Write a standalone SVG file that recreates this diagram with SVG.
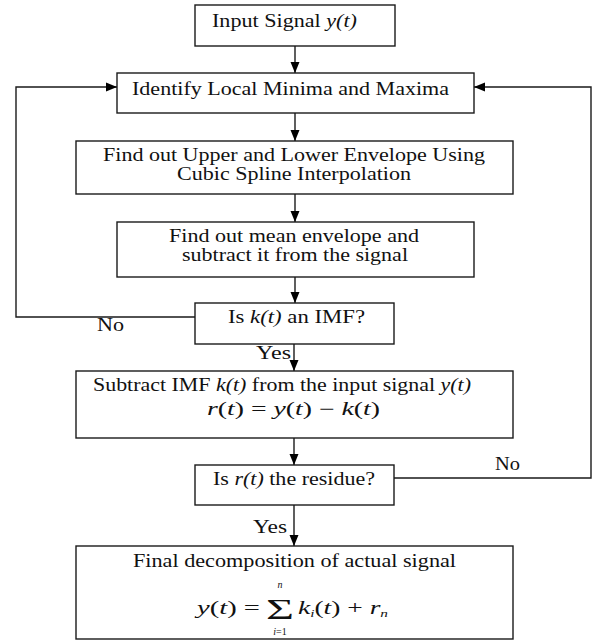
<svg xmlns="http://www.w3.org/2000/svg" width="595" height="643" viewBox="0 0 595 643">
<defs>
<marker id="arr" markerUnits="userSpaceOnUse" markerWidth="12" markerHeight="12" viewBox="0 0 12 12" refX="11" refY="6" orient="auto">
<path d="M0,1.5 L11,6 L0,10.5 Z" fill="#000"/>
</marker>
<style>
.box{fill:#fff;stroke:#1a1a1a;stroke-width:1.4}
.conn{fill:none;stroke:#1a1a1a;stroke-width:1.4}
text{font-family:'Liberation Serif','Times New Roman','DejaVu Serif',serif;font-size:18px;fill:#111}
.i{font-style:italic}
.s{font-size:10px}
</style>
</defs>
<g font-family="'Liberation Serif', 'Times New Roman', 'DejaVu Serif', serif">
<g id="connectors">
<line class="conn" x1="295" y1="46" x2="295" y2="73" marker-end="url(#arr)"/>
<line class="conn" x1="295" y1="113" x2="295" y2="141" marker-end="url(#arr)"/>
<line class="conn" x1="295" y1="194" x2="295" y2="222" marker-end="url(#arr)"/>
<line class="conn" x1="295" y1="277" x2="295" y2="303" marker-end="url(#arr)"/>
<line class="conn" x1="294" y1="344" x2="294" y2="371" marker-end="url(#arr)"/>
<line class="conn" x1="294" y1="438" x2="294" y2="465" marker-end="url(#arr)"/>
<line class="conn" x1="294" y1="505" x2="294" y2="546" marker-end="url(#arr)"/>
<polyline class="conn" points="195,317 16,317 16,87 117,87" marker-end="url(#arr)"/>
<polyline class="conn" points="394,478 591,478 591,87 474,87" marker-end="url(#arr)"/>
<text x="97" y="331" textLength="27" lengthAdjust="spacingAndGlyphs">No</text>
<text x="495" y="470" textLength="25" lengthAdjust="spacingAndGlyphs">No</text>
<text x="256" y="359" textLength="35" lengthAdjust="spacingAndGlyphs">Yes</text>
<text x="253" y="533" textLength="34" lengthAdjust="spacingAndGlyphs">Yes</text>
</g>
<g id="input">
<rect class="box" x="195" y="5" width="200" height="41"/>
<text x="212" y="27" textLength="145" lengthAdjust="spacingAndGlyphs">Input Signal <tspan class="i">y(t)</tspan></text>
</g>
<g id="extrema">
<rect class="box" x="117" y="73" width="357" height="40"/>
<text x="132" y="95" textLength="317" lengthAdjust="spacingAndGlyphs">Identify Local Minima and Maxima</text>
</g>
<g id="envelope">
<rect class="box" x="76" y="141" width="437" height="53"/>
<text x="103" y="161" textLength="382" lengthAdjust="spacingAndGlyphs">Find out Upper and Lower Envelope Using</text>
<text x="177" y="180" textLength="234" lengthAdjust="spacingAndGlyphs">Cubic Spline Interpolation</text>
</g>
<g id="mean">
<rect class="box" x="117" y="222" width="357" height="55"/>
<text x="169" y="242" textLength="250" lengthAdjust="spacingAndGlyphs">Find out mean envelope and</text>
<text x="182" y="261" textLength="226" lengthAdjust="spacingAndGlyphs">subtract it from the signal</text>
</g>
<g id="isimf">
<rect class="box" x="195" y="303" width="199" height="41"/>
<text x="228" y="323" textLength="137" lengthAdjust="spacingAndGlyphs">Is <tspan class="i">k(t)</tspan> an IMF?</text>
</g>
<g id="subtract">
<rect class="box" x="76" y="371" width="437" height="67"/>
<text x="93" y="391" textLength="378" lengthAdjust="spacingAndGlyphs">Subtract IMF <tspan class="i">k(t)</tspan> from the input signal <tspan class="i">y(t)</tspan></text>
<text x="207" y="415" textLength="173" lengthAdjust="spacingAndGlyphs"><tspan class="i">r</tspan>(<tspan class="i">t</tspan>) = <tspan class="i">y</tspan>(<tspan class="i">t</tspan>) − <tspan class="i">k</tspan>(<tspan class="i">t</tspan>)</text>
</g>
<g id="residue">
<rect class="box" x="195" y="465" width="199" height="40"/>
<text x="213" y="485" textLength="162" lengthAdjust="spacingAndGlyphs">Is <tspan class="i">r(t)</tspan> the residue?</text>
</g>
<g id="final">
<rect class="box" x="76" y="546" width="437" height="93"/>
<text x="133" y="567" textLength="323" lengthAdjust="spacingAndGlyphs">Final decomposition of actual signal</text>
<text x="197" y="614" textLength="63" lengthAdjust="spacingAndGlyphs"><tspan class="i">y</tspan>(<tspan class="i">t</tspan>) =</text>
<text x="266" y="619" style="font-size:30px" textLength="28" lengthAdjust="spacingAndGlyphs">Σ</text>
<text class="i s" x="280" y="588" text-anchor="middle">n</text>
<text class="s" x="280" y="635" text-anchor="middle"><tspan class="i">i</tspan>=1</text>
<text x="298" y="614" textLength="90" lengthAdjust="spacingAndGlyphs"><tspan class="i">k</tspan><tspan class="i s" dy="3">i</tspan><tspan dy="-3">(</tspan><tspan class="i">t</tspan>) + <tspan class="i">r</tspan><tspan class="i s" dy="3">n</tspan></text>
</g>
</g>
</svg>
